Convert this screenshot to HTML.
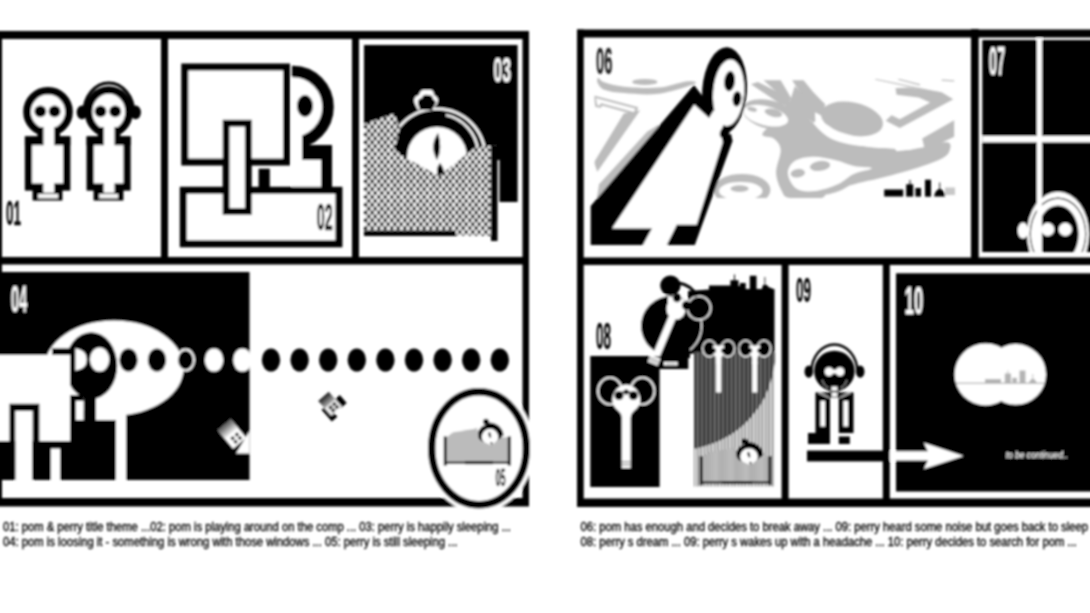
<!DOCTYPE html>
<html lang="en">
<head>
<meta charset="utf-8">
<title>pom &amp; perry storyboard</title>
<style>
html,body{margin:0;padding:0;background:#fff;}
body{width:1090px;height:613px;overflow:hidden;position:relative;font-family:"Liberation Sans",sans-serif;}
svg{position:absolute;left:0;top:0;display:block;}
.num{font-family:"Liberation Sans",sans-serif;font-weight:bold;}
.cap{font-family:"Liberation Sans",sans-serif;font-size:11.5px;fill:#000;stroke:#000;stroke-width:0.35px;}
</style>
</head>
<body>
<svg width="1090" height="613" viewBox="0 0 1090 613">
<defs>
  <pattern id="dots" width="6.5" height="7.8" patternUnits="userSpaceOnUse">
    <rect width="6.5" height="7.8" fill="#fff"/>
    <circle cx="1.6" cy="1.95" r="2" fill="#000"/>
    <circle cx="4.85" cy="5.85" r="2" fill="#000"/>
  </pattern>
  <pattern id="grid" width="2" height="2" patternUnits="userSpaceOnUse">
    <rect width="2" height="2" fill="#cfcfcf"/>
    <rect x="0" y="0" width="1" height="1" fill="#666"/>
  </pattern>
  <filter id="soft" x="-5%" y="-5%" width="110%" height="110%"><feGaussianBlur stdDeviation="1"/></filter>
  <linearGradient id="gfade" x1="0" y1="0" x2="1" y2="0"><stop offset="0" stop-color="#555"/><stop offset="1" stop-color="#eee"/></linearGradient>
  <linearGradient id="gfade2" x1="0" y1="0" x2="0" y2="1"><stop offset="0" stop-color="#444"/><stop offset="1" stop-color="#eee"/></linearGradient>
  <linearGradient id="gfade3" x1="0" y1="0" x2="1" y2="0"><stop offset="0" stop-color="#1a1a1a"/><stop offset="1" stop-color="#b0b0b0"/></linearGradient>
</defs>
<rect width="1090" height="613" fill="#fff"/>
<g id="art" filter="url(#soft)">

<!-- ===== LEFT PAGE FRAME ===== -->
<g id="frameL" fill="#000">
  <rect x="-8" y="31" width="537" height="8"/>
  <rect x="-8" y="498" width="537" height="8.5"/>
  <rect x="-8" y="31" width="10" height="475"/>
  <rect x="522.5" y="31" width="6.5" height="475"/>
  <rect x="-8" y="257" width="537" height="7.5"/>
  <rect x="161" y="31" width="7" height="230"/>
  <rect x="352" y="31" width="7" height="230"/>
</g>

<!-- ===== RIGHT PAGE FRAME ===== -->
<g id="frameR" fill="#000">
  <rect x="577" y="29.5" width="523" height="8"/>
  <rect x="577" y="498.5" width="523" height="8.5"/>
  <rect x="577" y="29.5" width="6.7" height="477"/>
  <rect x="577" y="257.5" width="523" height="7.5"/>
  <rect x="971" y="29" width="7.7" height="232"/>
  <rect x="781.6" y="260" width="7" height="243"/>
  <rect x="882.8" y="260" width="7" height="243"/>
</g>

<!-- ===== PANEL 01 : pom & perry ===== -->
<g id="p01">
  <!-- pom -->
  <circle cx="48" cy="111.8" r="21" fill="#fff" stroke="#000" stroke-width="7.6"/>
  <rect x="28.5" y="140" width="38.2" height="47" fill="#fff" stroke="#000" stroke-width="7.2"/>
  <rect x="24.9" y="136.4" width="45.4" height="8.8" fill="#000"/>
  <rect x="37.5" y="127" width="22.5" height="11" fill="#000"/>
  <rect x="32.6" y="186" width="29.8" height="14.5" fill="#000"/>
  <rect x="43.5" y="124" width="10.7" height="22" fill="#fff"/>
  <rect x="43.3" y="182" width="10.9" height="10.8" fill="#fff"/>
  <rect x="38.1" y="194" width="19.9" height="4.4" fill="#f4f4f4"/>
  <circle cx="40.3" cy="111.3" r="5.9" fill="#000"/>
  <circle cx="54.6" cy="111.3" r="5.9" fill="#000"/>
  <!-- perry -->
  <path d="M83.8 113 A25 30 0 0 1 133.8 113" fill="none" stroke="#000" stroke-width="3"/>
  <ellipse cx="82" cy="112.4" rx="5.3" ry="6.8" fill="#000"/>
  <ellipse cx="135.6" cy="112.4" rx="5.3" ry="6.8" fill="#000"/>
  <ellipse cx="108.8" cy="111.8" rx="20.3" ry="21.8" fill="#fff" stroke="#000" stroke-width="7.6"/>
  <rect x="90.2" y="140" width="36.8" height="47" fill="#fff" stroke="#000" stroke-width="7.2"/>
  <rect x="86.6" y="136.4" width="44" height="8.8" fill="#000"/>
  <rect x="97.8" y="127" width="22.5" height="11" fill="#000"/>
  <rect x="93.6" y="186" width="29.8" height="14.5" fill="#000"/>
  <rect x="103.8" y="124" width="10.7" height="22" fill="#fff"/>
  <rect x="103.6" y="182" width="10.9" height="10.8" fill="#fff"/>
  <rect x="99.2" y="194" width="18.8" height="4.4" fill="#f4f4f4"/>
  <circle cx="100.5" cy="111.3" r="5.9" fill="#000"/>
  <circle cx="115.2" cy="111.3" r="5.9" fill="#000"/>
</g>

<!-- ===== PANEL 02 : pom at the computer ===== -->
<g id="p02">
  <clipPath id="c02"><rect x="292" y="40" width="60" height="149"/></clipPath>
  <g clip-path="url(#c02)">
    <ellipse cx="293" cy="107" rx="35" ry="35.5" fill="#fff" stroke="#000" stroke-width="11.5"/>
    <rect x="259.5" y="150.5" width="67" height="80" fill="#fff" stroke="#000" stroke-width="11"/>
    <rect x="254" y="145" width="78" height="15" fill="#000"/>
    <rect x="284" y="128" width="18" height="33" fill="#fff"/>
    <ellipse cx="305" cy="106" rx="8" ry="11" fill="#000"/>
  </g>
  <rect x="184.8" y="67" width="101.7" height="95" fill="#fff" stroke="#000" stroke-width="7"/>
  <rect x="183.3" y="190.3" width="155.6" height="53.5" fill="#fff" stroke="#000" stroke-width="7"/>
  <rect x="258.6" y="168.7" width="11.2" height="21" fill="#000"/>
  <rect x="226.1" y="123.2" width="22.2" height="88.2" fill="#fff" stroke="#000" stroke-width="6.8"/>
</g>

<!-- ===== PANEL 03 : perry sleeping ===== -->
<g id="p03">
  <path d="M364 45 H517.6 V202 H499.5 V146 H364 Z" fill="#000"/>
  <rect x="364" y="100" width="136" height="60" fill="#000"/>
  <!-- head outline (white halo) -->
  <circle cx="437" cy="157" r="49.6" fill="#fff"/>
  <path d="M415 104 q-3 -7 4 -9 q1 -6 8 -5 q7 -1 7 5 q6 3 3 9 l-4 6 h-15 z" fill="#fff"/>
  <circle cx="437" cy="157" r="47" fill="#000"/>
  <path d="M418 104 q-1 -5 4 -6 q1 -4 6 -3 q5 0 5 4 q4 2 2 6 l-3 5 h-12 z" fill="#000"/>
  <path d="M446 115 A41 41 0 0 1 478 150" fill="none" stroke="#fff" stroke-width="2.3"/>
  <circle cx="437" cy="157" r="30" fill="#fff"/>
  <path d="M438 133 q-9 13 -1 27 q6 -12 1 -27 z" fill="#000"/>
  <path d="M440 163 q-5 6 -2 13 h6 q1 -7 -4 -13 z" fill="#000"/>
  <!-- blanket -->
  <path d="M364 124 L394 113.5 L400 128 L395 150 L407 158.5 L439 176 L475 147.5 L492 145.5 L497 146 V240 H491 V236 L456 235.5 L364 235.5 Z" fill="url(#dots)"/>
  <rect x="491" y="146" width="6.5" height="95" fill="#000"/>
  <rect x="364" y="230.5" width="92" height="5.5" fill="#000"/>
</g>

<!-- ===== PANEL 04 : pom is loosing it ===== -->
<g id="p04">
  <rect x="-8" y="272" width="257.5" height="208" fill="#000"/>
  <!-- big white head + neck -->
  <ellipse cx="114" cy="368" rx="69.5" ry="47.5" fill="#fff"/>
  <rect x="96" y="395" width="30" height="26" fill="#fff"/>
  <rect x="116" y="410" width="10" height="70" fill="#fff"/>
  <!-- black head inside -->
  <ellipse cx="91.2" cy="365.7" rx="26" ry="33.4" fill="#000"/>
  <rect x="52" y="348.3" width="20" height="7" fill="#000"/>
  <rect x="83.6" y="385" width="12.4" height="36" fill="#000"/>
  <rect x="70" y="395" width="13.6" height="26" fill="#000"/>
  <rect x="76" y="401" width="7.6" height="19" fill="#fff"/>
  <rect x="70" y="420" width="46" height="60" fill="#000"/>
  <!-- eyes of black head (white dots) -->
  <ellipse cx="99.6" cy="359.6" rx="9.7" ry="12" fill="#fff"/>
  <path d="M75.4 348.2 Q86.8 350 86.8 359.5 Q86.8 369 75.4 370.7 Z" fill="#fff"/>
  <!-- white monitor -->
  <rect x="-8" y="355" width="78" height="86" fill="#fff"/>
  <rect x="-8" y="441" width="23.5" height="39" fill="#000"/>
  <path d="M9.5 403.7 H39.4 V441 H32.4 V411 H15.5 V441 H9.5 Z" fill="#000"/>
  <rect x="15.5" y="411" width="16.9" height="72" fill="#fff"/>
  <rect x="32.4" y="441" width="18.6" height="39" fill="#000"/>
  <rect x="51" y="448.6" width="9" height="33" fill="#fff"/>
  <rect x="60" y="441" width="12" height="39" fill="#000"/>
  <!-- dots row -->
  <g fill="#000">
    <ellipse cx="128.5" cy="360" rx="9.2" ry="11.6"/>
    <ellipse cx="157" cy="360" rx="9.2" ry="11.6"/>
    <ellipse cx="185.6" cy="360" rx="8.4" ry="10.6" stroke="#fff" stroke-width="2"/>
    <ellipse cx="271" cy="360" rx="9.2" ry="11.6"/>
    <ellipse cx="299.6" cy="360" rx="9.2" ry="11.6"/>
    <ellipse cx="328.2" cy="360" rx="9.2" ry="11.6"/>
    <ellipse cx="356.8" cy="360" rx="9.2" ry="11.6"/>
    <ellipse cx="385.4" cy="360" rx="9.2" ry="11.6"/>
    <ellipse cx="414" cy="360" rx="9.2" ry="11.6"/>
    <ellipse cx="442.6" cy="360" rx="9.2" ry="11.6"/>
    <ellipse cx="471.2" cy="360" rx="9.2" ry="11.6"/>
    <ellipse cx="499.8" cy="360" rx="9.2" ry="11.6"/>
  </g>
  <ellipse cx="214" cy="360" rx="9.2" ry="11.6" fill="#fff"/>
  <ellipse cx="242.4" cy="360" rx="9.2" ry="11.6" fill="#fff"/>
  <!-- falling window icons -->
  <path d="M249.5 431 L236 453.5 H249.5 Z" fill="#fff"/>
  <g transform="translate(232 434) rotate(50)">
    <rect x="-12" y="-8.5" width="24" height="17" fill="#fff"/>
    <rect x="-12" y="-8.5" width="11" height="17" fill="url(#gfade)"/>
    <g fill="#000"><rect x="2" y="-5" width="3.2" height="3.2"/><rect x="6.6" y="-5" width="3.2" height="3.2"/><rect x="2" y="0.6" width="3.2" height="3.2"/><rect x="6.6" y="0.6" width="3.2" height="3.2"/></g>
  </g>
  <g transform="translate(330 403.7) rotate(48.7)">
    <rect x="0" y="-13" width="10.5" height="8" fill="#000"/>
    <rect x="-1" y="3" width="15.6" height="7.4" fill="#000"/>
    <rect x="-9.9" y="-7" width="19.8" height="14" fill="#f4f4f4"/>
    <rect x="-9.9" y="-7" width="10" height="14" fill="url(#gfade3)"/>
    <g fill="#111"><rect x="1.6" y="-4.8" width="3" height="3.6"/><rect x="5.6" y="-4.8" width="3" height="3.6"/><rect x="1.6" y="0.2" width="3" height="3.6"/><rect x="5.6" y="0.2" width="3" height="3.6"/></g>
  </g>
</g>

<!-- ===== PANEL 05 : perry still sleeping (ring) ===== -->
<g id="p05">
  <ellipse cx="479" cy="448.3" rx="55" ry="64" fill="#fff"/>
  <ellipse cx="479" cy="448.3" rx="47.3" ry="56.5" fill="#fff" stroke="#000" stroke-width="7.5"/>
  <!-- bed -->
  <g id="bed">
    <circle cx="489.5" cy="436.5" r="12.3" fill="#000"/>
    <path d="M487 425.5 A11.3 11.3 0 0 1 500.8 436" fill="none" stroke="#000" stroke-width="5.5"/>
    <circle cx="486" cy="421.8" r="3" fill="#000"/>
    <circle cx="490" cy="437" r="8.3" fill="#fff"/>
    <ellipse cx="489.8" cy="435" rx="1.2" ry="3" transform="rotate(-12 489.8 435)" fill="#000"/>
    <circle cx="491.4" cy="443.2" r="1.1" fill="#000"/>
    <path d="M446 438 L452.7 432.6 L477.2 428.2 L478.5 437.5 L480.5 440.5 L491.4 445.6 L500.7 437.5 L508.5 437 V462.5 H446 Z" fill="url(#grid)"/>
    <rect x="443.8" y="436.5" width="3" height="29" fill="#000"/>
    <rect x="507.8" y="436.5" width="3" height="29" fill="#000"/>
    <rect x="446" y="461.6" width="62" height="2.4" fill="#333"/>
    <rect x="465" y="461.4" width="28" height="2.8" fill="#000"/>
  </g>
</g>

<!-- ===== PANEL 06 : pom breaks away ===== -->
<g id="p06">
  <clipPath id="c06"><rect x="594.5" y="78" width="360.5" height="120"/></clipPath>
  <g clip-path="url(#c06)">
<path d="M598.2 77.8 C599.3 77.6 599.8 80.8 604.2 82.3 C608.5 83.8 615.2 85.8 624.3 86.7 C633.3 87.5 648.2 88.5 658.5 87.6 C668.8 86.7 679.9 82.1 685.9 81.4 C691.9 80.8 699.2 81.6 694.6 83.7 C690.0 85.8 670.2 92.2 658.5 93.7 C646.8 95.3 633.2 93.7 624.3 93.1 C615.3 92.5 609.5 91.7 605.1 90.1 C600.7 88.5 598.9 85.3 597.8 83.2 C596.6 81.2 597.2 77.9 598.2 77.8 Z" fill="#bcbcbc"/>
<ellipse cx="644.8" cy="81.9" rx="12.6" ry="3.0" transform="rotate(0 644.8 81.9)" fill="#bcbcbc"/>
<path d="M623.8 113.4 L640.2 110.2 L597.3 171.8 L594.1 162.3 Z" fill="#bcbcbc"/>
<path d="M658.5 124.8 L647.1 131.7 L599.1 184.2 L596.9 197.9 L617.4 197.9 L663.1 138.5 Z" fill="#bcbcbc"/>
<path d="M751.0 84.2 L757.8 81.9 L788.7 97.4 L792.1 106.5 L780.7 104.3 Z" fill="#bcbcbc"/>
<path d="M763.5 80.3 L780.7 80.3 L792.1 99.7 L786.4 100.8 Z" fill="#bcbcbc"/>
<ellipse cx="769.3" cy="114.5" rx="27.4" ry="14.2" transform="rotate(14 769.3 114.5)" fill="#bcbcbc"/>
<path d="M792.1 80.3 L803.5 80.3 L813.8 92.8 L825.2 104.3 L821.8 115.7 L812.6 111.1 Z" fill="#bcbcbc"/>
<path d="M788.7 102.0 C792.5 101.6 799.5 110.0 803.5 113.4 C807.5 116.8 808.8 118.9 812.6 122.5 C816.4 126.1 821.0 131.8 826.3 135.1 C831.7 138.3 836.5 139.8 844.6 141.9 C852.7 144.0 866.6 146.5 875.0 147.6 C883.4 148.8 891.5 145.7 894.9 148.8 C898.2 151.8 898.2 162.3 894.9 165.9 C891.5 169.5 881.8 168.5 875.0 170.5 C868.1 172.5 860.0 175.3 853.7 177.8 C847.5 180.3 842.3 183.5 837.8 185.3 C833.2 187.2 829.0 186.7 826.3 188.7 C823.7 190.8 827.9 196.4 821.8 197.9 C815.7 199.4 796.5 199.0 789.8 197.9 C783.1 196.7 784.1 195.2 781.8 191.0 C779.5 186.8 776.3 179.6 776.1 172.8 C775.9 165.9 781.1 155.6 780.7 149.9 C780.3 144.2 776.9 141.2 773.8 138.5 C770.8 135.8 761.3 137.7 762.4 133.9 C763.5 130.1 776.3 121.0 780.7 115.7 C785.0 110.3 784.9 102.4 788.7 102.0 Z" fill="#bcbcbc"/>
<path d="M790.9 98.5 L794.8 86.0 L803.5 95.1 L814.9 112.2 L815.4 123.9 L803.5 115.2 L789.4 103.8 Z" fill="#bcbcbc"/>
<ellipse cx="852.0" cy="119.0" rx="31.5" ry="16.5" transform="rotate(12 852.0 119.0)" fill="#bcbcbc"/>
<ellipse cx="818.4" cy="173.9" rx="40.0" ry="21.7" transform="rotate(-6 818.4 173.9)" fill="#bcbcbc"/>
<ellipse cx="741.9" cy="189.9" rx="28.5" ry="16.0" transform="rotate(0 741.9 189.9)" fill="#bcbcbc"/>
<path d="M830.9 145.4 C836.2 139.5 853.7 149.2 862.8 150.4 C872.0 151.5 876.2 152.6 885.7 152.2 C895.2 151.8 911.6 149.6 919.9 148.1 C928.3 146.6 931.2 144.0 935.9 143.1 C940.7 142.2 946.1 141.7 948.5 142.6 C950.8 143.6 951.0 146.2 950.1 148.8 C949.1 151.3 949.7 154.3 942.8 157.9 C935.8 161.5 921.8 166.5 908.5 170.5 C895.2 174.5 875.8 179.4 862.8 181.9 C849.9 184.4 836.2 191.4 830.9 185.3 C825.5 179.2 825.5 151.2 830.9 145.4 Z" fill="#bcbcbc"/>
<path d="M922.2 138.5 L954.2 120.2 L954.2 136.7 L925.0 150.4 Z" fill="#bcbcbc"/>
<path d="M895.5 88.3 L908.5 87.6 L941.6 92.2 L953.3 99.2 L899.8 128.0 L885.7 120.7 L891.6 115.2 L899.8 119.3 L930.2 102.4 L918.8 97.4 L896.6 94.7 Z" fill="#bcbcbc"/>
<path d="M874.3 79.6 L876.5 79.1 L940.5 92.2 L939.3 93.5 Z" fill="#bcbcbc"/>
<path d="M897.1 79.6 L899.8 79.1 L920.4 84.2 L919.5 85.5 Z" fill="#bcbcbc"/>
<path d="M941.6 79.6 L954.2 80.3 L954.2 81.4 L941.6 80.7 Z" fill="#bcbcbc"/>
<ellipse cx="765.8" cy="115.7" rx="22.8" ry="9.6" transform="rotate(14 765.8 115.7)" fill="#fff"/>
<path d="M788.0 173.9 C787.6 169.3 790.3 164.2 794.4 161.3 C798.5 158.5 805.8 157.0 812.6 156.8 C819.5 156.6 828.6 158.7 835.5 160.2 C842.3 161.7 847.7 164.6 853.7 165.9 C859.8 167.2 872.0 166.9 872.0 168.2 C872.0 169.5 859.5 171.2 853.7 173.9 C848.0 176.6 844.2 181.3 837.8 184.2 C831.3 187.0 821.8 190.3 814.9 191.0 C808.1 191.8 801.1 191.6 796.7 188.7 C792.2 185.9 788.4 178.5 788.0 173.9 Z" fill="#fff"/>
<ellipse cx="740.7" cy="191.0" rx="21.7" ry="9.1" transform="rotate(0 740.7 191.0)" fill="#fff"/>
<path d="M813.8 122.1 C814.9 121.2 822.3 123.3 826.3 124.8 C830.3 126.3 832.4 129.2 837.8 131.2 C843.1 133.2 851.1 135.6 858.3 136.7 C865.5 137.8 874.3 137.4 881.2 137.8 C888.0 138.2 893.3 137.7 899.4 139.0 C905.5 140.2 916.2 143.5 917.7 145.4 C919.2 147.2 912.4 149.4 908.6 149.9 C904.7 150.5 900.4 149.2 894.9 148.8 C889.3 148.3 882.6 147.9 875.0 147.2 C867.4 146.4 856.5 145.7 849.2 144.2 C841.8 142.8 835.9 140.9 830.9 138.5 C826.0 136.1 822.3 132.6 819.5 129.8 C816.6 127.1 812.6 122.9 813.8 122.1 Z" fill="#fff"/>
<ellipse cx="752.1" cy="109.3" rx="5.0" ry="2.3" transform="rotate(14 752.1 109.3)" fill="#bcbcbc"/>
<ellipse cx="773.4" cy="112.9" rx="9.1" ry="3.9" transform="rotate(14 773.4 112.9)" fill="#bcbcbc"/>
<ellipse cx="797.8" cy="173.2" rx="7.3" ry="4.3" transform="rotate(-8 797.8 173.2)" fill="#bcbcbc"/>
<ellipse cx="820.0" cy="165.9" rx="10.3" ry="5.0" transform="rotate(-8 820.0 165.9)" fill="#bcbcbc"/>
<ellipse cx="739.6" cy="188.7" rx="9.1" ry="3.4" transform="rotate(0 739.6 188.7)" fill="#bcbcbc"/>
<path d="M594.6 96.7 L636.8 107.9 L634.5 113.4 L601.4 104.3 L600.3 106.5 L596.4 106.1 Z" fill="#fff" stroke="#bcbcbc" stroke-width="2.2"/>
  </g>
  <!-- skyline -->
  <g fill="#000">
    <rect x="884.2" y="189.5" width="19" height="7"/>
    <rect x="906.2" y="184.3" width="7" height="12.3"/><rect x="909.5" y="180" width="1" height="5"/>
    <rect x="915.4" y="188" width="5.6" height="8.6"/>
    <rect x="925" y="179.7" width="6" height="17"/>
    <path d="M934.2 196.6 Q935 190 939.7 188.8 Q944.5 190 945.2 196.6 Z"/><rect x="939.3" y="182.5" width="0.9" height="7"/>
  </g>
  <rect x="945" y="187.5" width="10" height="7.5" fill="#c8c8c8"/>
  <!-- pom: head -->
  <ellipse cx="724.5" cy="90.7" rx="22.3" ry="43.5" transform="rotate(4 724.5 90.7)" fill="#000"/>
  <!-- black body -->
  <path d="M694 85 L704 98 L714 110 L722 128 L732.5 141 L694.8 245 H590.7 V206 Z" fill="#000"/>
  <!-- white face + body -->
  <ellipse cx="728.6" cy="92.8" rx="15.5" ry="33.3" transform="rotate(4 728.6 92.8)" fill="#fff"/>
  <path d="M694.3 104.6 L709 118 L714 110 L726 118 L721.5 130 L722.8 142 L696.6 224.8 H676.8 L666.8 245 H643 L651.9 228.6 H612 Z" fill="#fff"/>
  <ellipse cx="724.6" cy="132.6" rx="4.6" ry="6.2" transform="rotate(25 724.6 132.6)" fill="#000"/>
  <path d="M722 136 L731 134 L732.5 141 L722.8 142 Z" fill="#000"/>
  <ellipse cx="729.6" cy="81.2" rx="5.4" ry="10.2" transform="rotate(6 729.6 81.2)" fill="#000"/>
  <ellipse cx="737" cy="98.8" rx="4.4" ry="7.7" transform="rotate(6 737 98.8)" fill="#000"/>
</g>

<!-- ===== PANEL 07 : perry at the window ===== -->
<g id="p07">
  <rect x="982.3" y="40" width="118" height="212" fill="#000"/>
  <!-- perry head -->
  <clipPath id="c07"><rect x="982.3" y="40" width="108" height="212"/></clipPath>
  <g clip-path="url(#c07)">
    <ellipse cx="1023" cy="230.6" rx="5.2" ry="8" fill="#fff"/>
    <ellipse cx="1058" cy="234" rx="31" ry="42.3" fill="#fff"/>
    <ellipse cx="1058" cy="234" rx="28.3" ry="36.5" fill="#000"/>
    <ellipse cx="1058" cy="234" rx="27.2" ry="35.2" fill="#fff"/>
    <ellipse cx="1058" cy="234" rx="20.6" ry="28.6" fill="#000"/>
    <circle cx="1047.7" cy="229.4" r="6.6" fill="#fff"/>
    <circle cx="1065.3" cy="229.4" r="6.6" fill="#fff"/>
  </g>
  <rect x="1036.9" y="38" width="5" height="215" fill="#fff"/>
  <rect x="982.3" y="136" width="118" height="6.3" fill="#fff"/>
</g>

<!-- ===== PANEL 08 : perry's dream ===== -->
<g id="p08">
  <pattern id="stripeD" width="4.2" height="10" patternUnits="userSpaceOnUse">
    <rect width="4.2" height="10" fill="#3c3c3c"/>
    <rect x="0" y="0" width="1.1" height="10" fill="#8a8a8a"/>
    <rect x="2.6" y="0" width="0.6" height="10" fill="#111"/>
  </pattern>
  <pattern id="stripeL" width="3.4" height="10" patternUnits="userSpaceOnUse">
    <rect width="3.4" height="10" fill="#f2f2f2"/>
    <rect x="0" y="0" width="1.1" height="10" fill="#222"/>
  </pattern>
  <!-- city block -->
  <path d="M688 353.8 V291 L709 289.5 V285.6 H730.4 V280.2 H734 V274.5 H735 V280.2 H738.5 V286 H740 V283 H745.7 V289 H749.8 V275.8 H756.5 V289 H761.8 L763 285 H764.5 V277 H765.3 V285 H767 L768.5 287 L773.5 289 H774.5 V353.8 Z" fill="#000"/>
  <!-- stripes -->
  <rect x="694" y="352.5" width="81" height="134" fill="url(#stripeL)"/>
  <path d="M694 352.5 H775 V362 Q770 395 755 412 Q735 440 694 449 Z" fill="url(#stripeD)"/>
  <!-- big black circle (head) -->
  <circle cx="671" cy="326" r="30.5" fill="#000" stroke="#fff" stroke-width="1.5"/>
  <circle cx="671" cy="326" r="29.8" fill="#000"/>
  <path d="M658.7 348 H690 V358 H688.3 V369 H658.7 Z" fill="#000"/>
  <!-- big key (tilted) -->
  <ellipse cx="676" cy="309" rx="9.5" ry="10.5" fill="#fff"/>
  <path d="M668 296 L688 300 L684 312 L668 312 Z" fill="#fff"/>
  <path d="M675.8 309 L654.6 359.5" stroke="#fff" stroke-width="7.2" fill="none"/>
  <circle cx="670.4" cy="285.6" r="10.2" fill="#000"/>
  <circle cx="677" cy="298" r="4.2" fill="#000"/>
  <circle cx="699" cy="308" r="11.7" fill="#000" stroke="#fff" stroke-width="1.5"/>
  <circle cx="686.5" cy="305.4" r="4.6" fill="#000"/>
  <path d="M679 283 Q691 285 697 296" fill="none" stroke="#000" stroke-width="3"/>
  <rect x="664" y="362" width="13.5" height="3.4" fill="#fff"/>
  <rect x="666" y="363.2" width="9.5" height="1" fill="#aaa"/>
  <!-- black box + key -->
  <rect x="590.3" y="356" width="69.3" height="131" fill="#000"/>
  <g transform="translate(654.2 360) rotate(22.3)">
    <rect x="-5.4" y="-3.5" width="10.8" height="7.5" fill="#fff"/>
    <rect x="-5.4" y="-1.2" width="10.8" height="1.1" fill="#888"/>
    <rect x="-5.4" y="1.2" width="10.8" height="1.1" fill="#888"/>
  </g>
  <g id="key1">
    <ellipse cx="610" cy="391" rx="12" ry="13.4" fill="#000" stroke="#fff" stroke-width="1.8"/>
    <ellipse cx="642.4" cy="391" rx="12" ry="13.4" fill="#000" stroke="#fff" stroke-width="1.8"/>
    <path d="M626.2 384.5 Q634 385 638 392 Q644 403 634 411 Q630.6 414 630.6 417 H621.8 Q621.8 414 618.5 411 Q608.5 403 614.5 392 Q618.5 385 626.2 384.5 Z" fill="#fff"/>
    <rect x="621.8" y="414" width="8.8" height="54" fill="#fff"/>
    <rect x="621.8" y="461" width="8.8" height="1.3" fill="#888"/>
    <rect x="621.8" y="464" width="8.8" height="1.3" fill="#888"/>
    <circle cx="619" cy="395.5" r="4.6" fill="#000"/>
    <circle cx="633.4" cy="395.5" r="4.6" fill="#000"/>
    <path d="M622 392 L626.2 389 L630.4 392 L626.2 395 Z" fill="#000"/>
  </g>
  <!-- two small keys -->
  <g>
    <ellipse cx="709.4" cy="348.6" rx="6.8" ry="8.1" fill="#000" stroke="#fff" stroke-width="1.4"/>
    <ellipse cx="727.8" cy="348.6" rx="6.8" ry="8.1" fill="#000" stroke="#fff" stroke-width="1.4"/>
    <path d="M713.2 345.6 H724.0 Q724.6 352 721.2 358 V364 H716.0 V358 Q712.6 352 713.2 345.6 Z" fill="#fff"/>
    <rect x="716.1" y="362" width="5" height="30.5" fill="#fff"/>
    <circle cx="713.4" cy="350.5" r="2.6" fill="#000"/><circle cx="723.8" cy="350.5" r="2.6" fill="#000"/>
  </g>
  <g>
    <ellipse cx="745.6" cy="348.6" rx="6.8" ry="8.1" fill="#000" stroke="#fff" stroke-width="1.4"/>
    <ellipse cx="764.0" cy="348.6" rx="6.8" ry="8.1" fill="#000" stroke="#fff" stroke-width="1.4"/>
    <path d="M749.4 345.6 H760.2 Q760.8 352 757.4 358 V364 H752.2 V358 Q748.8 352 749.4 345.6 Z" fill="#fff"/>
    <rect x="752.3" y="362" width="5" height="30.5" fill="#fff"/>
    <circle cx="749.6" cy="350.5" r="2.6" fill="#000"/><circle cx="760.0" cy="350.5" r="2.6" fill="#000"/>
  </g>
  <!-- little bed -->
  <use href="#bed" transform="translate(699.8 485) scale(1.07 1.0) translate(-444 -465.4)"/>
</g>

<!-- ===== PANEL 09 : perry wakes up ===== -->
<g id="p09">
  <path d="M811.4 372 A23 27.6 0 0 1 857.4 372" fill="none" stroke="#000" stroke-width="2.5"/>
  <ellipse cx="808.8" cy="371.6" rx="4.3" ry="6.2" fill="#000"/>
  <ellipse cx="860.2" cy="371.6" rx="4.3" ry="6.2" fill="#000"/>
  <circle cx="834.4" cy="371" r="20.3" fill="#000"/>
  <circle cx="829" cy="371.6" r="4.3" fill="#fff"/>
  <circle cx="840" cy="371.6" r="4.3" fill="#fff"/>
  <rect x="831" y="369.6" width="7" height="4" fill="#fff"/>
  <path d="M822 380 q2 6 6 8" stroke="#ddd" stroke-width="0.8" fill="none"/>
  <path d="M847 380 q-2 6 -6 8" stroke="#ddd" stroke-width="0.8" fill="none"/>
  <rect x="831.4" y="386.5" width="6" height="4" fill="#fff"/>
  <rect x="815.5" y="392.5" width="14.5" height="40.5" fill="#000"/>
  <rect x="838.8" y="392.5" width="14.7" height="40.5" fill="#000"/>
  <rect x="830" y="391.5" width="8.8" height="6" fill="#000"/>
  <rect x="831.6" y="392.6" width="5.6" height="4" fill="#fff"/>
  <path d="M819 393 L829 397.5 M850 393 L840 397.5" stroke="#fff" stroke-width="1"/>
  <rect x="820.4" y="401" width="4.6" height="25.5" fill="#fff"/>
  <rect x="843.4" y="401" width="4.6" height="25.5" fill="#fff"/>
  <rect x="808" y="433" width="22" height="11" fill="#000"/>
  <rect x="838.8" y="436.5" width="11" height="7.5" fill="#000"/>
  <rect x="807" y="450.6" width="80" height="10.8" fill="#000"/>
</g>

<!-- ===== PANEL 10 : to be continued ===== -->
<g id="p10">
  <rect x="896" y="273.3" width="204" height="218.2" fill="#000"/>
  <circle cx="985.6" cy="374.4" r="31" fill="#fff"/>
  <circle cx="1015.7" cy="374.4" r="30.3" fill="#fff"/>
  <g fill="#b4b4b4">
    <rect x="956" y="382.6" width="89" height="1.3"/>
    <rect x="985" y="379" width="16" height="4"/>
    <rect x="1004.8" y="373.5" width="6.2" height="9.5"/><rect x="1007.5" y="370.5" width="0.8" height="3.5"/>
    <rect x="1012.2" y="377.8" width="4.8" height="5"/>
    <rect x="1019.5" y="370.5" width="6" height="12.5"/>
    <path d="M1029 383 Q1030 379 1032.8 378.8 Q1035.6 379 1036.6 383 Z"/><rect x="1032.4" y="374" width="0.8" height="5"/>
  </g>
  <path d="M889.7 451.3 H927.8 L923.9 442.8 L963.7 455.9 L923.9 468.9 L927.8 460.4 H889.7 Z" fill="#fff"/>
</g>

<g id="numbers" class="num">
<text x="6" y="225" font-size="35.2" textLength="15.0" lengthAdjust="spacingAndGlyphs" fill="#000" stroke="#000" stroke-width="0.3">01</text>
<text x="316.7" y="229.8" font-size="36.9" textLength="16.0" lengthAdjust="spacingAndGlyphs" fill="#000" stroke="#000" stroke-width="0.3">02</text>
<text x="493.5" y="82.4" font-size="35.2" textLength="17.5" lengthAdjust="spacingAndGlyphs" fill="#fff" stroke="#fff" stroke-width="0.3">03</text>
<text x="11" y="312" font-size="36.6" textLength="16.0" lengthAdjust="spacingAndGlyphs" fill="#fff" stroke="#fff" stroke-width="0.3">04</text>
<text x="495.4" y="486" font-size="23.0" textLength="10.2" lengthAdjust="spacingAndGlyphs" fill="#222" stroke="#222" stroke-width="0.3">05</text>
<text x="596" y="73.7" font-size="36.9" textLength="16.4" lengthAdjust="spacingAndGlyphs" fill="#222" stroke="#222" stroke-width="0.3">06</text>
<text x="989" y="75.3" font-size="39.9" textLength="16.0" lengthAdjust="spacingAndGlyphs" fill="#fff" stroke="#fff" stroke-width="0.3">07</text>
<text x="596" y="348.6" font-size="36.9" textLength="15.0" lengthAdjust="spacingAndGlyphs" fill="#000" stroke="#000" stroke-width="0.3">08</text>
<text x="796" y="302.4" font-size="35.1" textLength="15.0" lengthAdjust="spacingAndGlyphs" fill="#000" stroke="#000" stroke-width="0.3">09</text>
<text x="904.8" y="313.6" font-size="38.9" textLength="18.2" lengthAdjust="spacingAndGlyphs" fill="#fff" stroke="#fff" stroke-width="0.3">10</text>
</g>
<g id="captions" class="cap">
<text x="3" y="530.7" font-size="12.6" textLength="508.0" lengthAdjust="spacingAndGlyphs">01: pom &amp; perry title theme ...02: pom is playing around on the comp ... 03: perry is happily sleeping ...</text>
<text x="3" y="546.2" font-size="12.6" textLength="454.5" lengthAdjust="spacingAndGlyphs">04: pom is loosing it - something is wrong with those windows ... 05: perry is still sleeping ...</text>
<text x="580.5" y="530.7" font-size="12.6" textLength="507.5" lengthAdjust="spacingAndGlyphs">06: pom has enough and decides to break away ... 09: perry heard some noise but goes back to sleep</text>
<text x="580.5" y="546.2" font-size="12.6" textLength="496.2" lengthAdjust="spacingAndGlyphs">08: perry s dream ... 09: perry s wakes up with a headache ... 10: perry decides to search for pom ...</text>
</g>
<text x="1005.9" y="457.6" font-family="Liberation Sans, sans-serif" font-style="italic" font-size="8.6" textLength="61.6" lengthAdjust="spacingAndGlyphs" fill="#fff" stroke="#fff" stroke-width="0.25">to be continued..</text>
<!--PANELS-->

</g>

<!--TEXT-->

</svg>
</body>
</html>
